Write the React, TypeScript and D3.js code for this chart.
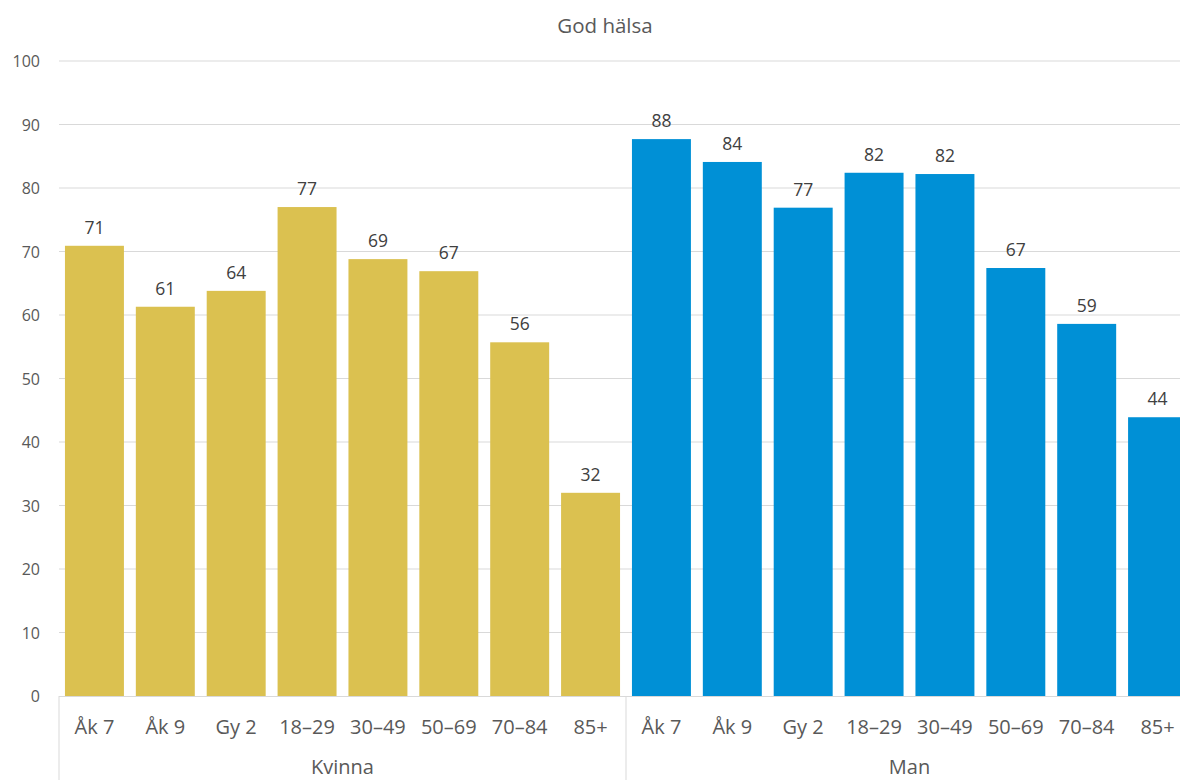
import React from "react";
import * as d3 from "d3";

const groups = ["Kvinna", "Man"];
const categories = ["Åk 7", "Åk 9", "Gy 2", "18–29", "30–49", "50–69", "70–84", "85+"];
const kvinnaValues = [70.9, 61.3, 63.8, 77.0, 68.8, 66.9, 55.7, 32.0];
const manValues = [87.7, 84.1, 76.9, 82.4, 82.2, 67.4, 58.6, 43.9];
const yTicks = [0, 10, 20, 30, 40, 50, 60, 70, 80, 90, 100];
const title = "God hälsa";
const colors = ["#DBC150", "#0090D6"];

const W = 1180;
const H = 780;
const left = 59;
const right = 1193;
const top = 61;
const bottom = 696;
const font = "'Open Sans', 'Liberation Sans', sans-serif";
const textColor = "#595959";

export default function App() {
  const rows = groups.flatMap((g, gi) =>
    categories.map((c, ci) => ({
      key: `${g}-${c}`,
      group: g,
      gi,
      cat: c,
      value: gi === 0 ? kvinnaValues[ci] : manValues[ci],
    }))
  );
  const x = d3
    .scaleBand<string>()
    .domain(rows.map((r) => r.key))
    .range([left, right])
    .paddingInner(0.168)
    .paddingOuter(0.084);
  const y = d3.scaleLinear().domain([0, 100]).range([bottom, top]);
  const groupWidth = (right - left) / groups.length;

  return (
    <svg
      width={W}
      height={H}
      style={{ position: "absolute", left: 0, top: 0, background: "#fff" }}
      fontFamily={font}
    >
      <text x={605} y={25} textAnchor="middle" dominantBaseline="central" fontSize={20.5} fill={textColor}>
        {title}
      </text>
      {yTicks.map((t) => (
        <g key={t}>
          {t > 0 && (
            <line x1={left} x2={W} y1={y(t)} y2={y(t)} stroke="#D9D9D9" strokeWidth={1} />
          )}
          <text
            x={40}
            y={y(t)}
            textAnchor="end"
            dominantBaseline="central"
            fontSize={16}
            fill={textColor}
          >
            {t}
          </text>
        </g>
      ))}
      {rows.map((r) => (
        <g key={r.key}>
          <rect
            x={x(r.key)}
            y={y(r.value)}
            width={x.bandwidth()}
            height={bottom - y(r.value)}
            fill={colors[r.gi]}
          />
          <text
            x={(x(r.key) as number) + x.bandwidth() / 2}
            y={y(r.value) - 19}
            textAnchor="middle"
            dominantBaseline="central"
            fontSize={17.5}
            fill="#404040"
          >
            {Math.round(r.value)}
          </text>
          <text
            x={(x(r.key) as number) + x.bandwidth() / 2}
            y={726}
            textAnchor="middle"
            dominantBaseline="central"
            fontSize={20}
            fill={textColor}
          >
            {r.cat}
          </text>
        </g>
      ))}
      <line x1={left} x2={W} y1={bottom + 0.5} y2={bottom + 0.5} stroke="#D9D9D9" strokeWidth={1} />
      {groups.map((g, gi) => (
        <g key={g}>
          <line
            x1={left + gi * groupWidth}
            x2={left + gi * groupWidth}
            y1={bottom}
            y2={H}
            stroke="#D9D9D9"
            strokeWidth={1}
          />
          <text
            x={left + gi * groupWidth + groupWidth / 2}
            y={766}
            textAnchor="middle"
            dominantBaseline="central"
            fontSize={20}
            fill={textColor}
          >
            {g}
          </text>
        </g>
      ))}
    </svg>
  );
}
